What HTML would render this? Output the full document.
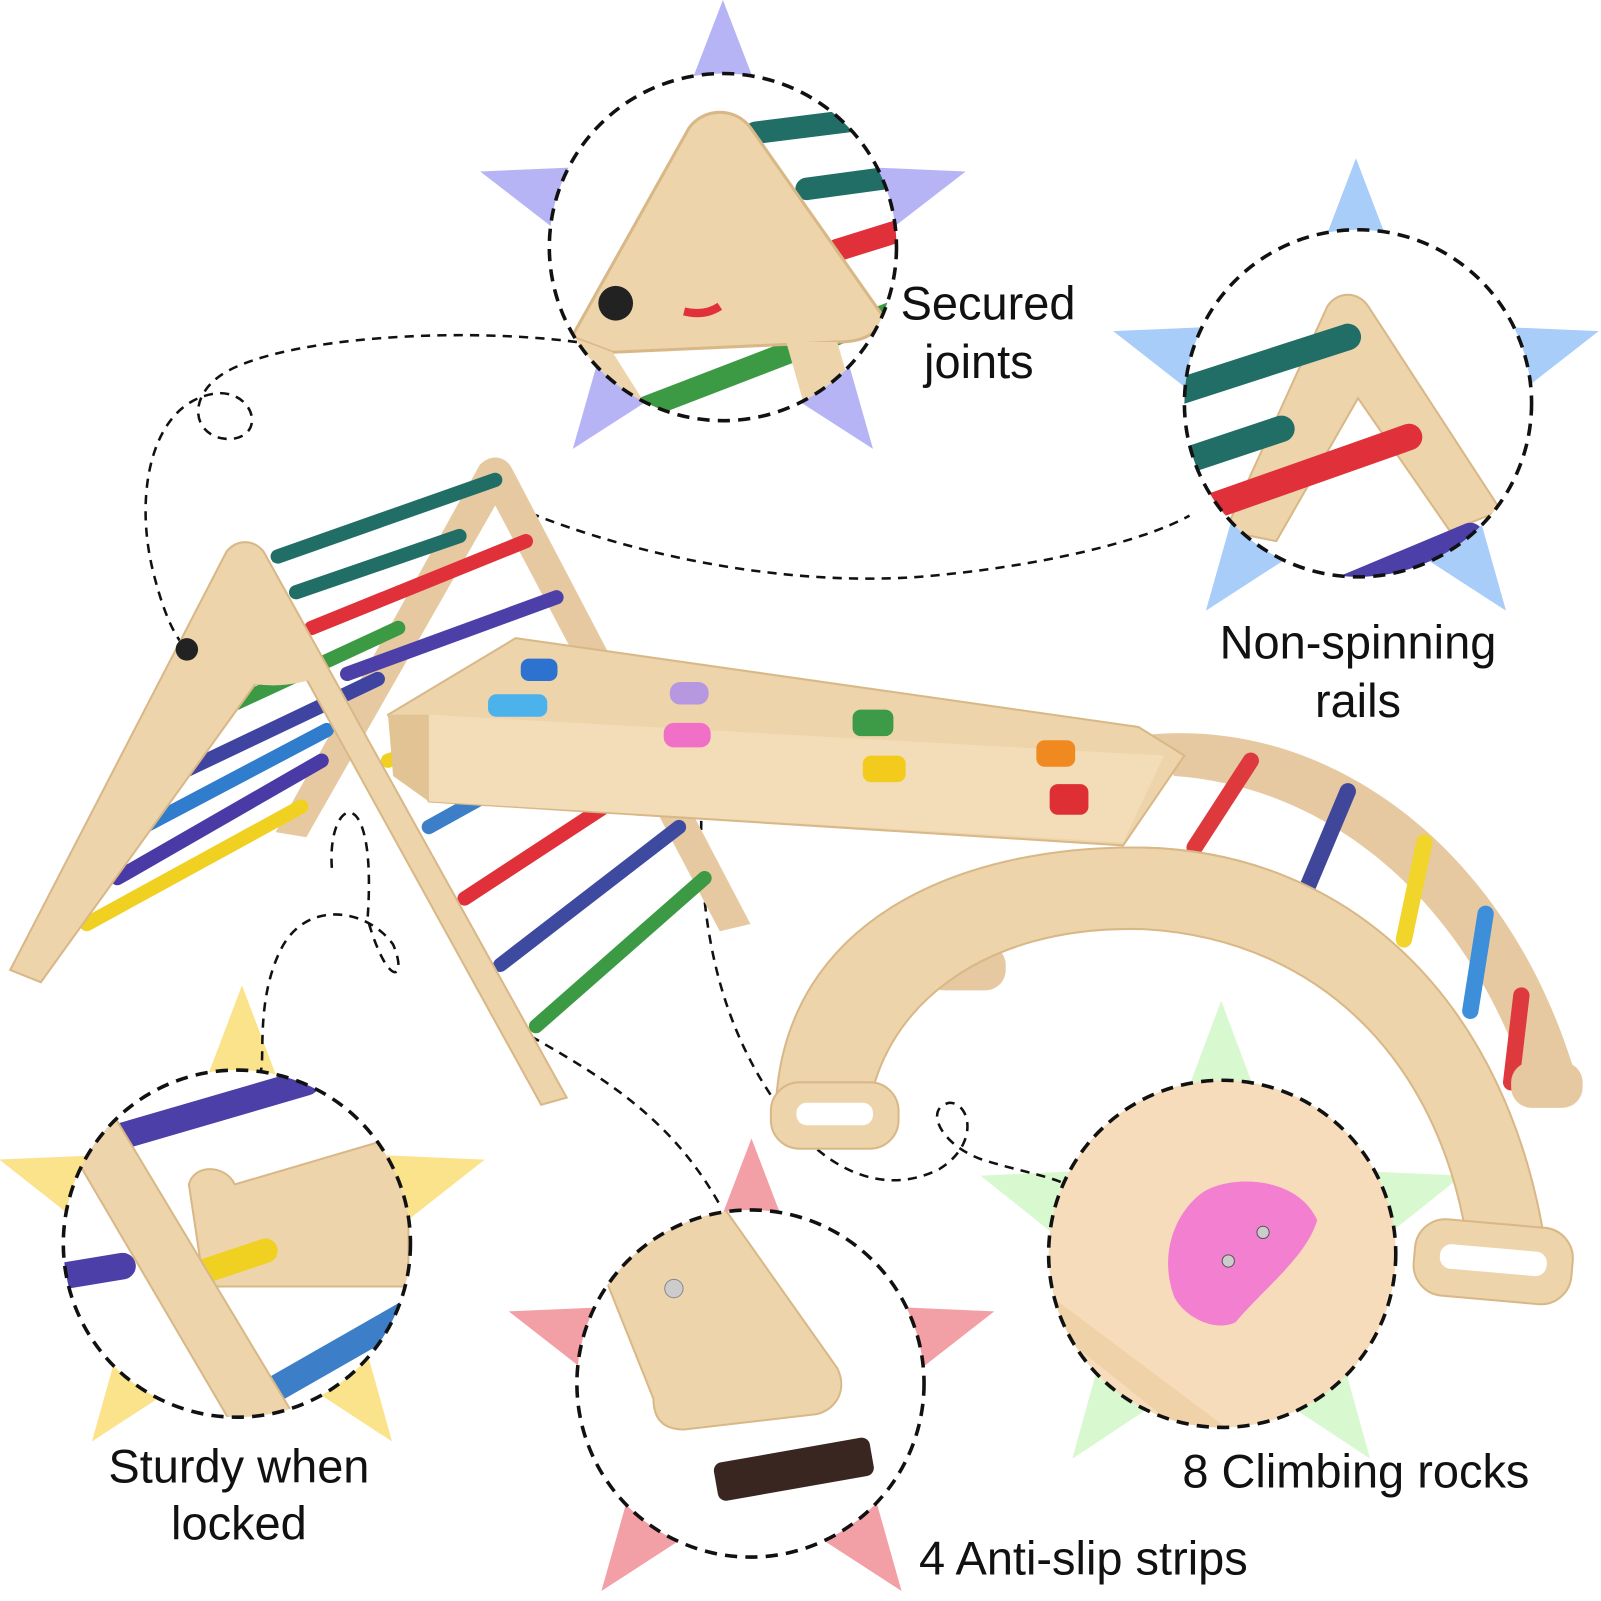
<!DOCTYPE html>
<html><head><meta charset="utf-8"><style>
html,body{margin:0;padding:0;background:#fff;}
svg{display:block;}
text{font-family:"Liberation Sans",sans-serif;fill:#111;}
</style></head><body>
<svg width="1601" height="1601" viewBox="0 0 1568 1568" xmlns="http://www.w3.org/2000/svg">
<defs>
<polygon id="st" points="0,-1 0.247,-0.34 0.951,-0.309 0.4,0.13 0.588,0.809 0,0.42 -0.588,0.809 -0.4,0.13 -0.951,-0.309 -0.247,-0.34"/>
<clipPath id="c1"><circle cx="708" cy="242" r="170"/></clipPath>
<clipPath id="c2"><circle cx="1330" cy="395" r="170"/></clipPath>
<clipPath id="c3"><circle cx="232" cy="1218" r="170"/></clipPath>
<clipPath id="c4"><circle cx="735" cy="1355" r="170"/></clipPath>
<clipPath id="c5"><circle cx="1197" cy="1228" r="170"/></clipPath>
</defs>

<!-- stars -->
<use href="#st" fill="#b7b4f6" transform="translate(708,243) scale(250,243)"/>
<use href="#st" fill="#a8cdf9" transform="translate(1328,400) scale(250,245)"/>
<use href="#st" fill="#fbe38c" transform="translate(237,1212) scale(250,247)"/>
<use href="#st" fill="#f2a0a5" transform="translate(736,1360) scale(250,245)"/>
<use href="#st" fill="#d8f8d0" transform="translate(1196,1228) scale(248,248)"/>

<!-- connectors -->
<g fill="none" stroke="#111" stroke-width="2.5" stroke-dasharray="9,7">
<path d="M565,335 C450,320 280,330 220,365 C180,390 190,430 225,430 C260,428 250,385 215,385 C150,390 130,480 150,560 C160,600 170,620 178,630"/>
<path d="M490,490 C600,540 760,575 900,565 C1020,555 1120,530 1165,505"/>
<path d="M325,850 C320,780 370,760 360,900 C380,970 400,960 385,925 C360,890 300,880 275,930 C250,980 260,1040 255,1050"/>
<path d="M520,1015 C600,1060 660,1100 705,1180"/>
<path d="M690,740 C680,860 690,980 760,1080 C800,1140 860,1175 920,1145 C960,1120 950,1080 930,1080 C905,1085 920,1120 960,1135 C990,1145 1020,1150 1040,1158"/>
</g>

<!-- ARCH back -->
<path d="M1120,720 C1300,700 1480,830 1545,1060 L1500,1075 C1440,880 1300,770 1150,760 Z" fill="#e6c9a0"/>
<!-- arch rods -->
<g stroke-linecap="round" stroke-width="16">
<line x1="1225" y1="745" x2="1170" y2="830" stroke="#de3a3e"/>
<line x1="1320" y1="775" x2="1280" y2="870" stroke="#40479a"/>
<line x1="1395" y1="825" x2="1375" y2="920" stroke="#f2d52b"/>
<line x1="1455" y1="895" x2="1440" y2="990" stroke="#3c8fd8"/>
<line x1="1490" y1="975" x2="1480" y2="1060" stroke="#de3a3e"/>
</g>
<!-- back feet -->
<rect x="905" y="925" width="80" height="45" rx="20" fill="#e6c9a0"/>
<rect x="1480" y="1040" width="70" height="45" rx="20" fill="#e6c9a0"/>
<!-- front arch ring -->
<path d="M760,1080 C770,900 940,830 1110,830 C1320,830 1480,980 1515,1230 L1440,1240 C1420,1050 1300,920 1120,910 C960,905 860,990 850,1095 Z" fill="#eed4ab" stroke="#d9b887" stroke-width="2"/>
<rect x="755" y="1060" width="125" height="65" rx="28" fill="#eed4ab" stroke="#d9b887" stroke-width="2"/>
<rect x="780" y="1080" width="75" height="22" rx="10" fill="#fff"/>
<rect x="1385" y="1198" width="155" height="75" rx="30" fill="#eed4ab" stroke="#d9b887" stroke-width="2" transform="rotate(5 1460 1235)"/>
<rect x="1410" y="1222" width="105" height="24" rx="11" fill="#fff" transform="rotate(5 1460 1235)"/>

<!-- BACK triangle -->
<path d="M470,455 C480,445 495,445 502,460 L735,905 L705,912 L485,495 L300,820 L270,815 Z" fill="#e6c9a0"/>
<!-- rods ladder -->
<g stroke-linecap="round" stroke-width="14">
<line x1="272" y1="545" x2="485" y2="470" stroke="#216e66"/>
<line x1="290" y1="580" x2="450" y2="525" stroke="#216e66"/>
<line x1="305" y1="615" x2="515" y2="530" stroke="#e0313a"/>
<line x1="185" y1="710" x2="390" y2="615" stroke="#3c9a45"/>
<line x1="340" y1="660" x2="545" y2="585" stroke="#4c3fa8"/>
<line x1="160" y1="765" x2="370" y2="665" stroke="#3e44a0"/>
<line x1="140" y1="810" x2="320" y2="715" stroke="#2f7dcc"/>
<line x1="115" y1="860" x2="315" y2="745" stroke="#4a3aa6"/>
<line x1="85" y1="905" x2="295" y2="790" stroke="#f0d020"/>
<line x1="380" y1="745" x2="410" y2="735" stroke="#f0d020"/>
<line x1="420" y1="810" x2="510" y2="760" stroke="#3c7fc8"/>
<line x1="455" y1="880" x2="600" y2="785" stroke="#e0313a"/>
<line x1="490" y1="945" x2="665" y2="810" stroke="#3d4aa0"/>
<line x1="525" y1="1005" x2="690" y2="860" stroke="#3c9a45"/>
</g>
<!-- FRONT triangle -->
<path d="M222,540 C232,528 248,528 258,540 L555,1075 L530,1082 L300,665 L250,670 L40,962 L10,950 Z" fill="#eed4ab" stroke="#d9b887" stroke-width="2"/>
<path d="M180,640 L240,535 L320,660 Q250,690 180,640Z" fill="#eed4ab"/>
<circle cx="183" cy="636" r="11" fill="#222"/>

<!-- RAMP -->
<path d="M505,625 L1115,712 L1160,740 L1100,828 L420,785 L380,700 Z" fill="#eed4ab" stroke="#d9b887" stroke-width="2"/>
<path d="M420,700 L1140,740 L1100,825 L420,785 Z" fill="#f3ddb8"/>
<path d="M380,700 L420,700 L420,785 L385,760 Z" fill="#e2c393"/>
<g>
<rect x="510" y="645" width="36" height="22" rx="8" fill="#2e72d0"/>
<rect x="478" y="680" width="58" height="22" rx="8" fill="#4cb2ec"/>
<rect x="656" y="668" width="38" height="22" rx="10" fill="#b698e0"/>
<rect x="650" y="708" width="46" height="24" rx="10" fill="#f070c8"/>
<rect x="835" y="695" width="40" height="26" rx="8" fill="#3d9a47"/>
<rect x="845" y="740" width="42" height="26" rx="8" fill="#f2cb1c"/>
<rect x="1015" y="725" width="38" height="26" rx="8" fill="#f08a20"/>
<rect x="1028" y="768" width="38" height="30" rx="8" fill="#de2f35"/>
</g>

<!-- detail circles -->
<circle cx="708" cy="242" r="170" fill="#fff"/>
<g clip-path="url(#c1)">
<g stroke-width="22" stroke-linecap="round">
<line x1="740" y1="130" x2="900" y2="110" stroke="#216e66"/>
<line x1="790" y1="185" x2="900" y2="170" stroke="#216e66"/>
<line x1="820" y1="245" x2="900" y2="220" stroke="#e0313a"/>
<line x1="630" y1="400" x2="890" y2="300" stroke="#3c9a45"/>
</g>
<path d="M560,330 L675,125 C690,105 720,105 735,125 L865,310 C860,330 840,335 820,335 L600,345 Z" fill="#eed4ab" stroke="#d9b887" stroke-width="3"/>
<path d="M560,330 L600,345 L660,440 L590,440 Z" fill="#eed4ab"/>
<path d="M770,335 L820,335 L850,440 L800,440Z" fill="#eed4ab"/>
<circle cx="603" cy="297" r="17" fill="#222"/>
<path d="M670,305 Q690,310 705,300" stroke="#e0313a" stroke-width="8" fill="none"/>
</g>
<circle cx="708" cy="242" r="170" fill="none" stroke="#111" stroke-width="3.5" stroke-dasharray="12,8"/>

<circle cx="1330" cy="395" r="170" fill="#fff"/>
<g clip-path="url(#c2)">
<path d="M1300,300 C1310,285 1330,285 1340,300 L1470,500 L1420,520 L1330,390 L1250,530 L1200,520 Z" fill="#eed4ab" stroke="#d9b887" stroke-width="2"/>
<g stroke-width="26" stroke-linecap="round">
<line x1="1150" y1="385" x2="1320" y2="330" stroke="#216e66"/>
<line x1="1150" y1="455" x2="1255" y2="420" stroke="#216e66"/>
<line x1="1190" y1="495" x2="1380" y2="428" stroke="#e0313a"/>
<line x1="1320" y1="575" x2="1440" y2="525" stroke="#4c3fa8"/>
</g>
</g>
<circle cx="1330" cy="395" r="170" fill="none" stroke="#111" stroke-width="3.5" stroke-dasharray="12,8"/>

<circle cx="232" cy="1218" r="170" fill="#fff"/>
<g clip-path="url(#c3)">
<g stroke-width="26" stroke-linecap="round">
<line x1="60" y1="1130" x2="300" y2="1060" stroke="#4c3fa8"/>
<line x1="60" y1="1250" x2="120" y2="1240" stroke="#4c3fa8"/>
<line x1="270" y1="1360" x2="410" y2="1280" stroke="#3c7fc8"/>
</g>
<path d="M185,1160 C190,1140 220,1140 230,1160 L400,1110 L400,1260 L200,1260 Z" fill="#eed4ab" stroke="#d9b887" stroke-width="2"/>
<line x1="200" y1="1245" x2="260" y2="1225" stroke="#f0d020" stroke-width="24" stroke-linecap="round"/>
<path d="M60,1110 L110,1090 L290,1390 L230,1400 Z" fill="#eed4ab" stroke="#d9b887" stroke-width="2"/>
</g>
<circle cx="232" cy="1218" r="170" fill="none" stroke="#111" stroke-width="3.5" stroke-dasharray="12,8"/>

<circle cx="735" cy="1355" r="170" fill="#fff"/>
<g clip-path="url(#c4)">
<path d="M560,1170 L700,1170 L820,1340 C830,1360 820,1380 800,1385 L670,1400 C650,1400 640,1390 640,1370 Z" fill="#eed4ab" stroke="#d9b887" stroke-width="2"/>
<circle cx="660" cy="1262" r="9" fill="#ccc" stroke="#888"/>
<rect x="700" y="1420" width="155" height="38" rx="8" fill="#3a2620" transform="rotate(-10 777 1439)"/>
</g>
<circle cx="735" cy="1355" r="170" fill="none" stroke="#111" stroke-width="3.5" stroke-dasharray="12,8"/>

<circle cx="1197" cy="1228" r="170" fill="#f6dcbb"/>
<g clip-path="url(#c5)">
<path d="M1030,1270 L1230,1420 L1180,1420 L1030,1300Z" fill="#efd2a7"/>
<path d="M1175,1170 C1200,1150 1270,1150 1290,1195 C1280,1230 1240,1260 1210,1295 C1190,1305 1160,1290 1150,1270 C1135,1230 1150,1190 1175,1170Z" fill="#f37fd0"/>
<circle cx="1237" cy="1207" r="6" fill="#ccc" stroke="#555"/>
<circle cx="1203" cy="1235" r="6" fill="#ccc" stroke="#555"/>
</g>
<circle cx="1197" cy="1228" r="170" fill="none" stroke="#111" stroke-width="3.5" stroke-dasharray="12,8"/>

<!-- labels -->
<text x="882" y="313" font-size="46">Secured</text>
<text x="905" y="370" font-size="46">joints</text>
<text x="1330" y="645" font-size="46" text-anchor="middle">Non-spinning</text>
<text x="1330" y="702" font-size="46" text-anchor="middle">rails</text>
<text x="234" y="1452" font-size="46" text-anchor="middle">Sturdy when</text>
<text x="234" y="1508" font-size="46" text-anchor="middle">locked</text>
<text x="1158" y="1457" font-size="46">8 Climbing rocks</text>
<text x="900" y="1542" font-size="46">4 Anti-slip strips</text>
</svg>
</body></html>
